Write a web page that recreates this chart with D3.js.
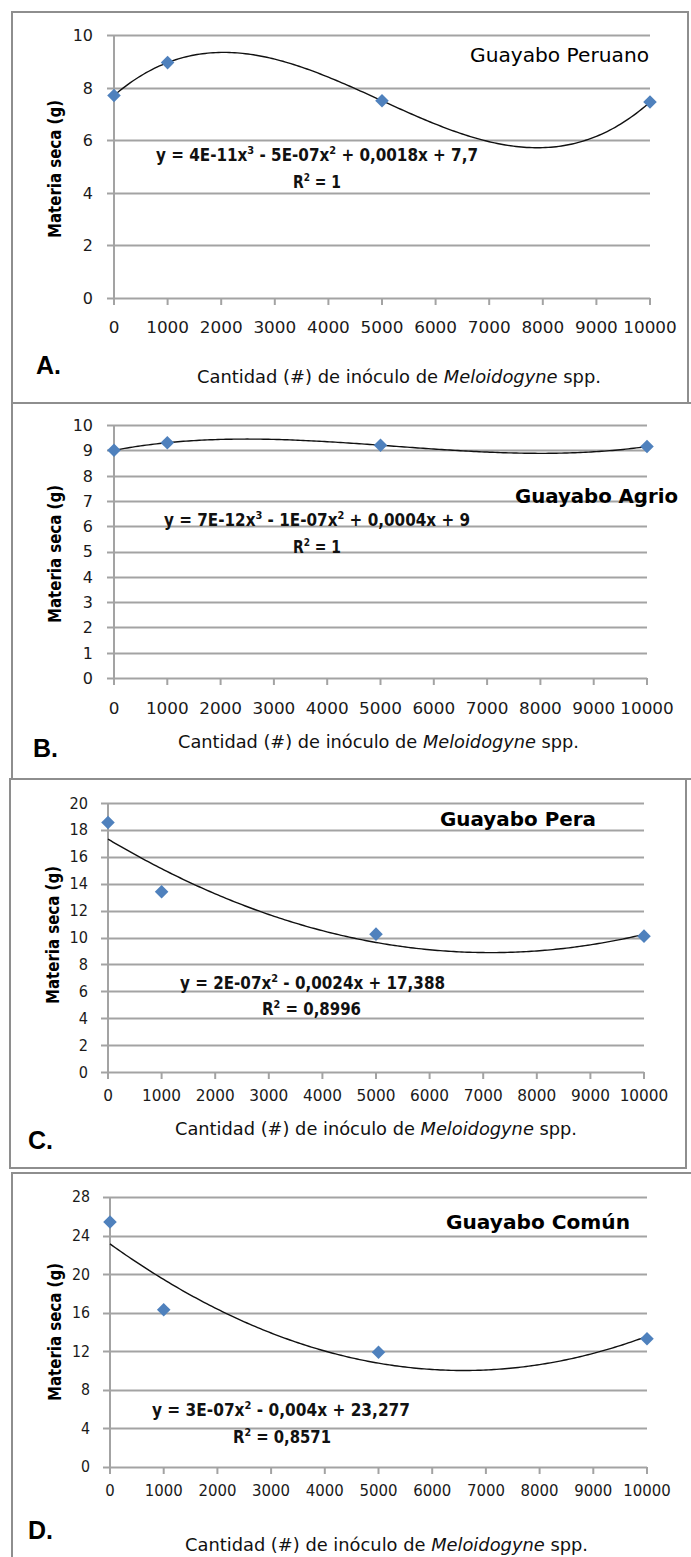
<!DOCTYPE html>
<html>
<head>
<meta charset="utf-8">
<script src="https://d3js.org/d3.v7.min.js"></script>
<style>
  body { margin: 0; background: #fff; }
  svg { display: block; }
</style>
</head>
<body>
<svg id="fig"></svg>
<script>
// values
const doses = [0, 1000, 5000, 10000];
const peruano = [7.7, 8.95, 7.5, 7.45];
const agrio = [9.0, 9.3, 9.2, 9.15];
const pera = [18.55, 13.4, 10.25, 10.1];
const comun = [25.4, 16.3, 11.9, 13.3];

const xTicks = [0, 1000, 2000, 3000, 4000, 5000, 6000, 7000, 8000, 9000, 10000];
const yTicksA = [0, 2, 4, 6, 8, 10];
const yTicksB = [0, 1, 2, 3, 4, 5, 6, 7, 8, 9, 10];
const yTicksC = [0, 2, 4, 6, 8, 10, 12, 14, 16, 18, 20];
const yTicksD = [0, 4, 8, 12, 16, 20, 24, 28];

const titles = ["Guayabo Peruano", "Guayabo Agrio", "Guayabo Pera", "Guayabo Común"];
const letters = ["A.", "B.", "C.", "D."];
// odd entries are superscripts
const equations = [
  ["y = 4E-11x", "3", " - 5E-07x", "2", " + 0,0018x + 7,7"],
  ["y = 7E-12x", "3", " - 1E-07x", "2", " + 0,0004x + 9"],
  ["y = 2E-07x", "2", " - 0,0024x + 17,388"],
  ["y = 3E-07x", "2", " - 0,004x + 23,277"]
];
const r2Values = ["1", "1", "0,8996", "0,8571"];
const fitDegree = [3, 3, 2, 2];
const yTitle = "Materia seca  (g)";

const W = 691, H = 1557;
const svg = d3.select("#fig").attr("width", W).attr("height", H);

const BLUE = "#4f81bd", GRID = "#a3a3a3", FRAME = "#8e8e8e";
const eqFont = "'Liberation Sans Narrow', 'DejaVu Sans Condensed', 'Liberation Sans', sans-serif";
const tickFont = "'DejaVu Sans', Verdana, sans-serif";

// layout of the four stacked panels
const panels = [
  { series: peruano, yTicks: yTicksA, yMax: 10,
    frame: [12, 12, 688, 403], xr: [114, 650], yr: [298, 35], tickSize: 16.5, digitW: 10.7,
    xLabY: 327, yLabX: 93,
    title: { x: 470, y: 55, w: 179, bold: false }, eq: { x: 156, y: 155, w: 322 },
    r2: { x: 293, y: 182, w: 48 }, yt: { x: 55, y: 169 }, xt: { x: 197, y: 377, w: 404 },
    letter: { x: 36, y: 365 } },
  { series: agrio, yTicks: yTicksB, yMax: 10,
    frame: [12, 403, 700, 779], xr: [114, 647], yr: [678, 425], tickSize: 16.5, digitW: 10.7,
    xLabY: 708, yLabX: 93,
    title: { x: 515, y: 496, w: 163, bold: true }, eq: { x: 164, y: 520, w: 306 },
    r2: { x: 293, y: 547, w: 48 }, yt: { x: 55, y: 554 }, xt: { x: 178, y: 742, w: 401 },
    letter: { x: 33, y: 748 } },
  { series: pera, yTicks: yTicksC, yMax: 20,
    frame: [10, 779, 686, 1168], xr: [108, 644], yr: [1072, 803], tickSize: 15.5, digitW: 9.75,
    xLabY: 1095, yLabX: 88,
    title: { x: 440, y: 819, w: 156, bold: true }, eq: { x: 180, y: 983, w: 265 },
    r2: { x: 262, y: 1009, w: 99 }, yt: { x: 53, y: 935 }, xt: { x: 175, y: 1129, w: 402 },
    letter: { x: 28, y: 1140 } },
  { series: comun, yTicks: yTicksD, yMax: 28,
    frame: [12, 1173, 700, 1570], xr: [110, 647], yr: [1467, 1197], tickSize: 15.2, digitW: 9.5,
    xLabY: 1491, yLabX: 90,
    title: { x: 446, y: 1222, w: 184, bold: true }, eq: { x: 152, y: 1410, w: 258 },
    r2: { x: 233, y: 1437, w: 98 }, yt: { x: 55, y: 1332 }, xt: { x: 185, y: 1545, w: 403 },
    letter: { x: 28, y: 1530 } }
];

// least squares polynomial, x measured in thousands
function polyfit(xs, ys, deg) {
  const n = deg + 1;
  const A = d3.range(n).map(() => new Array(n + 1).fill(0));
  xs.forEach((x0, k) => {
    const x = x0 / 1000;
    for (let i = 0; i < n; i++) {
      for (let j = 0; j < n; j++) A[i][j] += Math.pow(x, i + j);
      A[i][n] += ys[k] * Math.pow(x, i);
    }
  });
  for (let c = 0; c < n; c++) {
    let p = c;
    for (let r = c + 1; r < n; r++) if (Math.abs(A[r][c]) > Math.abs(A[p][c])) p = r;
    [A[c], A[p]] = [A[p], A[c]];
    for (let r = 0; r < n; r++) {
      if (r === c) continue;
      const f = A[r][c] / A[c][c];
      for (let k = c; k <= n; k++) A[r][k] -= f * A[c][k];
    }
  }
  const coef = d3.range(n).map(i => A[i][n] / A[i][i]);
  return x => coef.reduce((s, c, i) => s + c * Math.pow(x / 1000, i), 0);
}

panels.forEach((p, idx) => {
  const g = svg.append("g");
  const x = d3.scaleLinear().domain([0, 10000]).range(p.xr);
  const y = d3.scaleLinear().domain([0, p.yMax]).range(p.yr);

  // panel frame
  const [fx0, fy0, fx1, fy1] = p.frame;
  g.append("rect").attr("x", fx0).attr("y", fy0)
    .attr("width", fx1 - fx0).attr("height", fy1 - fy0)
    .attr("fill", "none").attr("stroke", FRAME).attr("stroke-width", 2);

  // horizontal gridlines (with the outside tick on the left)
  g.selectAll(".grid").data(p.yTicks).join("line")
    .attr("x1", p.xr[0] - 7).attr("x2", p.xr[1])
    .attr("y1", d => Math.round(y(d)) + 0.5).attr("y2", d => Math.round(y(d)) + 0.5)
    .attr("stroke", GRID).attr("stroke-width", 2);

  // y axis line
  g.append("line").attr("x1", p.xr[0]).attr("x2", p.xr[0])
    .attr("y1", p.yr[1]).attr("y2", p.yr[0])
    .attr("stroke", GRID).attr("stroke-width", 2);

  // x axis ticks
  g.selectAll(".xt").data(xTicks).join("line")
    .attr("x1", d => x(d)).attr("x2", d => x(d))
    .attr("y1", p.yr[0]).attr("y2", p.yr[0] + 7)
    .attr("stroke", GRID).attr("stroke-width", 2);

  // tick labels
  g.selectAll(".xl").data(xTicks).join("text")
    .attr("x", d => x(d)).attr("y", p.xLabY + p.tickSize * 0.36)
    .attr("text-anchor", "middle")
    .attr("textLength", d => String(d).length * p.digitW).attr("lengthAdjust", "spacingAndGlyphs")
    .style("font-family", tickFont).style("font-size", p.tickSize + "px").attr("fill", "#1a1a1a")
    .text(d => d);
  g.selectAll(".yl").data(p.yTicks).join("text")
    .attr("x", p.yLabX).attr("y", d => y(d) + p.tickSize * 0.36)
    .attr("text-anchor", "end")
    .attr("textLength", d => String(d).length * p.digitW * 0.95).attr("lengthAdjust", "spacingAndGlyphs")
    .style("font-family", tickFont).style("font-size", p.tickSize + "px").attr("fill", "#1a1a1a")
    .text(d => d);

  // trendline
  const f = polyfit(doses, p.series, fitDegree[idx]);
  const pts = d3.range(0, 10001, 50).map(v => [x(v), y(f(v))]);
  g.append("path").attr("d", d3.line()(pts))
    .attr("fill", "none").attr("stroke", "#111").attr("stroke-width", 1.4);

  // markers
  g.selectAll(".pt").data(doses).join("path")
    .attr("d", d3.symbol(d3.symbolSquare, 92))
    .attr("transform", (d, i) => `translate(${x(d)},${y(p.series[i])}) rotate(45)`)
    .attr("fill", BLUE);

  // panel title
  g.append("text").attr("x", p.title.x).attr("y", p.title.y + 7)
    .attr("textLength", p.title.w).attr("lengthAdjust", "spacingAndGlyphs")
    .style("font-family", "'DejaVu Sans', Verdana, sans-serif")
    .style("font-weight", p.title.bold ? "bold" : "normal")
    .style("font-size", "19px").attr("fill", "#000")
    .text(titles[idx]);

  // equation and R²
  const eq = g.append("text").attr("x", p.eq.x).attr("y", p.eq.y + 6)
    .attr("textLength", p.eq.w).attr("lengthAdjust", "spacingAndGlyphs")
    .style("font-family", eqFont).style("font-weight", "bold")
    .style("font-size", "17px").attr("fill", "#111");
  equations[idx].forEach((s, i) => {
    const t = eq.append("tspan").text(s);
    if (i % 2 === 1) t.attr("dy", -7).style("font-size", "11px");
    else if (i > 0) t.attr("dy", 7);
  });
  const r2 = g.append("text").attr("x", p.r2.x).attr("y", p.r2.y + 6)
    .attr("textLength", p.r2.w).attr("lengthAdjust", "spacingAndGlyphs")
    .style("font-family", eqFont).style("font-weight", "bold")
    .style("font-size", "17px").attr("fill", "#111");
  r2.append("tspan").text("R");
  r2.append("tspan").attr("dy", -7).style("font-size", "11px").text("2");
  r2.append("tspan").attr("dy", 7).text(" = " + r2Values[idx]);

  // y axis title
  g.append("text")
    .attr("transform", `translate(${p.yt.x + 6},${p.yt.y}) rotate(-90)`)
    .attr("text-anchor", "middle").attr("textLength", 138).attr("lengthAdjust", "spacingAndGlyphs")
    .style("font-family", eqFont).style("font-weight", "bold").style("font-size", "17px")
    .attr("fill", "#000").text(yTitle);

  // x axis title
  const xt = g.append("text").attr("x", p.xt.x).attr("y", p.xt.y + 6)
    .attr("textLength", p.xt.w).attr("lengthAdjust", "spacingAndGlyphs")
    .style("font-family", eqFont).style("font-size", "17px").attr("fill", "#111");
  xt.append("tspan").text("Cantidad (#) de inóculo  de ");
  xt.append("tspan").style("font-style", "italic").text("Meloidogyne");
  xt.append("tspan").text("  spp.");

  // panel letter
  g.append("text").attr("x", p.letter.x).attr("y", p.letter.y + 9)
    .style("font-family", "'Liberation Sans', Arial, sans-serif").style("font-weight", "bold")
    .style("font-size", "25px").attr("fill", "#000").text(letters[idx]);
});
</script>
</body>
</html>
